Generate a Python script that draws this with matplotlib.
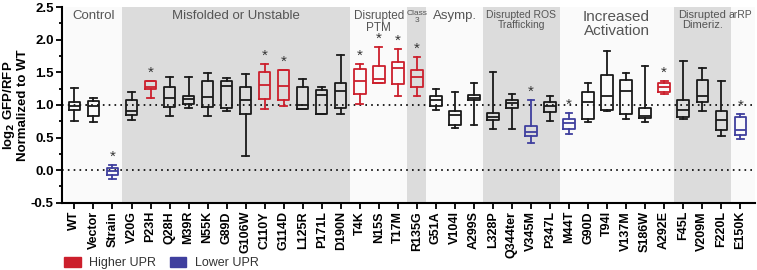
import matplotlib.pyplot as plt
from matplotlib.patches import Patch
from matplotlib.ticker import MultipleLocator

plt.rcParams['font.family'] = ['Liberation Sans', 'DejaVu Sans']

labels = ["WT", "Vector", "Strain", "V20G", "P23H", "Q28H", "M39R", "N55K", "G89D",
          "G106W", "C110Y", "G114D", "L125R", "P171L", "D190N", "T4K", "N15S", "T17M",
          "R135G", "G51A", "V104I", "A299S", "L328P", "Q344ter", "V345M", "P347L",
          "M44T", "G90D", "T94I", "V137M", "S186W", "A292E", "F45L", "V209M", "F220L",
          "E150K"]

# whisker low, q1, median, q3, whisker high
whislo = [0.76, 0.74, -0.13, 0.77, 1.10, 0.83, 0.96, 0.83, 0.90, 0.22, 0.93, 0.99,
          0.94, 0.86, 0.86, 1.02, 1.33, 1.14, 1.14, 0.92, 0.64, 0.69, 0.63, 0.63,
          0.41, 0.76, 0.56, 0.74, 0.90, 0.78, 0.74, 1.17, 0.78, 0.91, 0.52, 0.48]
q1 = [0.92, 0.83, -0.07, 0.85, 1.24, 0.97, 1.01, 0.97, 0.96, 0.86, 1.09, 1.07,
      0.94, 0.86, 0.96, 1.16, 1.33, 1.32, 1.28, 0.98, 0.69, 1.08, 0.77, 0.95,
      0.52, 0.89, 0.63, 0.79, 0.92, 0.86, 0.80, 1.20, 0.82, 1.04, 0.62, 0.54]
med = [0.99, 0.99, -0.015, 0.91, 1.27, 1.10, 1.09, 1.12, 1.29, 1.08, 1.30, 1.29,
       1.00, 1.15, 1.22, 1.36, 1.40, 1.57, 1.42, 1.08, 0.84, 1.11, 0.82, 1.03,
       0.59, 0.98, 0.72, 1.05, 1.13, 1.22, 0.83, 1.27, 0.92, 1.13, 0.77, 0.62]
q3 = [1.05, 1.06, 0.035, 1.08, 1.37, 1.28, 1.14, 1.37, 1.37, 1.27, 1.50, 1.53,
      1.27, 1.23, 1.34, 1.55, 1.60, 1.66, 1.54, 1.13, 0.90, 1.15, 0.87, 1.08,
      0.68, 1.05, 0.79, 1.20, 1.46, 1.38, 0.95, 1.33, 1.07, 1.38, 0.91, 0.81]
whishi = [1.26, 1.11, 0.08, 1.19, 1.37, 1.43, 1.42, 1.49, 1.41, 1.47, 1.63, 1.54,
          1.39, 1.28, 1.77, 1.63, 1.88, 1.85, 1.73, 1.24, 1.20, 1.34, 1.50, 1.17,
          1.07, 1.13, 0.87, 1.33, 1.82, 1.49, 1.59, 1.37, 1.68, 1.56, 1.36, 0.86]
# h = higher UPR, l = lower UPR, n = none
upr = ["n", "n", "l", "n", "h", "n", "n", "n", "n", "n", "h", "h", "n", "n", "n",
       "h", "h", "h", "h", "n", "n", "n", "n", "n", "l", "n", "l", "n", "n", "n",
       "n", "h", "n", "n", "n", "l"]

groups = ["Control", "Misfolded or Unstable", "Disrupted\nPTM", "Class\n3", "Asymp.",
          "Disrupted ROS\nTrafficking", "Increased\nActivation", "Disrupted\nDimeriz.", "arRP"]
group_sizes = [3, 12, 3, 1, 3, 4, 6, 3, 1]
group_font = [9.5, 9.5, 8.5, 6, 9.5, 7.5, 11, 8, 7.5]

RED = "#cc1f2c"
BLUE = "#3f3f9e"
col = {"h": RED, "l": BLUE, "n": "#1a1a1a"}

fig = plt.figure(figsize=(7.57, 2.70), dpi=100)
ax = fig.add_axes([0.082, 0.249, 0.916, 0.725])

# background bands
start = -0.5
for i, (g, n) in enumerate(zip(groups, group_sizes)):
    end = start + n
    left = max(start, -0.65)
    right = end if i < len(groups) - 1 else 35.8
    ax.axvspan(left, right, color="#dcdcdc" if i % 2 else "#fafafa", lw=0, zorder=0)
    ax.text((start + end) / 2, 2.45, g, ha="center", va="top", fontsize=group_font[i],
            color="#555555", linespacing=0.95, zorder=1)
    start = end

ax.axhline(0, color="k", ls=(0, (1, 2.5)), lw=1.2, zorder=1)
ax.axhline(1, color="k", ls=(0, (1, 2.5)), lw=1.2, zorder=1)

for i in range(len(labels)):
    st = [dict(whislo=whislo[i], q1=q1[i], med=med[i], q3=q3[i], whishi=whishi[i])]
    c = col[upr[i]]
    ax.bxp(st, positions=[i], widths=0.6, showfliers=False, patch_artist=False,
           boxprops=dict(color=c, lw=1.3), medianprops=dict(color=c, lw=1.3),
           whiskerprops=dict(color=c, lw=1.3), capprops=dict(color=c, lw=1.3),
           capwidths=0.35, manage_ticks=False, zorder=3)
    if upr[i] != "n":
        ax.text(i, whishi[i] + 0.02, "*", ha="center", va="bottom", fontsize=11,
                color="#333333", zorder=4)

ax.set_xlim(-0.65, 35.8)
ax.set_ylim(-0.5, 2.5)
ax.set_xticks(range(len(labels)))
ax.set_xticklabels(labels, rotation=90, fontsize=9, fontweight="bold")
ax.yaxis.set_minor_locator(MultipleLocator(0.25))
ax.set_yticks([-0.5, 0, 0.5, 1.0, 1.5, 2.0, 2.5])
ax.set_yticklabels(["-0.5", "0.0", "0.5", "1.0", "1.5", "2.0", "2.5"], fontsize=9.5,
                   fontweight="bold")
ax.set_ylabel("log$_\\mathbf{2}$ GFP/RFP\nNormalized to WT", fontsize=9.5,
              fontweight="bold", labelpad=1, linespacing=1.0)
for s in ["top", "right"]:
    ax.spines[s].set_visible(False)
for s in ["left", "bottom"]:
    ax.spines[s].set_linewidth(1.5)
ax.tick_params(axis="both", width=1.3, length=4, pad=2)
ax.tick_params(axis="y", which="minor", width=1.3, length=2.5)

handles = [Patch(color=RED, label="Higher UPR"), Patch(color=BLUE, label="Lower UPR")]
fig.legend(handles=handles, loc="center left", bbox_to_anchor=(0.085, 0.025), ncol=2,
           frameon=False, fontsize=9, handlelength=1.3, handleheight=0.8,
           handletextpad=0.7, columnspacing=1.1, labelcolor="#333333",
           borderpad=0, borderaxespad=0)

fig.savefig("out.png", dpi=100)
